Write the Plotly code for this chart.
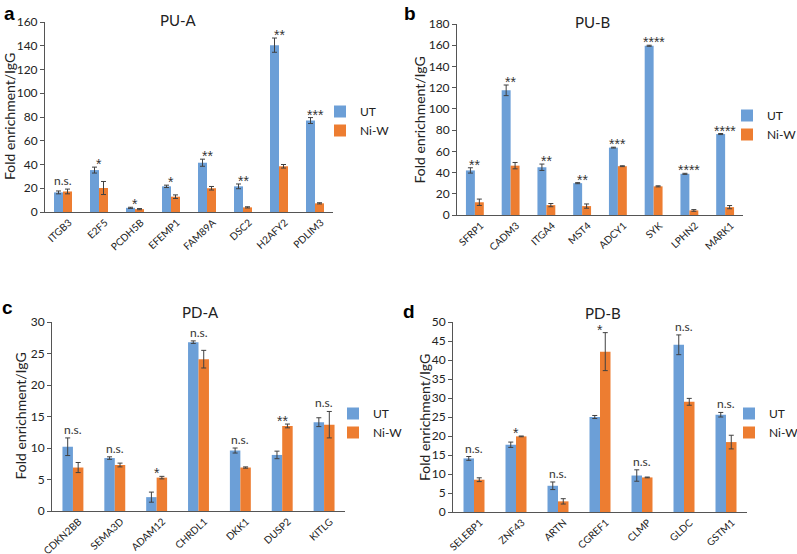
import plotly.graph_objects as go

W, H = 797, 554

# ---------------- data ----------------
a_genes = ["ITGB3", "E2F5", "PCDH5B", "EFEMP1", "FAM89A", "DSC2", "H2AFY2", "PDLIM3"]
a_ut = [16.5, 35.3, 3.5, 21.6, 41.5, 21.6, 140.5, 77.0]
a_ut_err = [1.2, 2.5, 0.5, 1.0, 3.0, 2.0, 6.0, 2.5]
a_niw = [17.3, 20.2, 2.4, 12.9, 20.0, 3.9, 38.5, 7.3]
a_niw_err = [2.0, 5.5, 0.5, 1.5, 1.5, 0.5, 1.5, 0.5]
a_sig = ["n.s.", "*", "*", "*", "**", "**", "**", "***"]

b_genes = ["SFRP1", "CADM3", "ITGA4", "MST4", "ADCY1", "SYK", "LPHN2", "MARK1"]
b_ut = [42.0, 117.5, 45.0, 30.0, 63.5, 159.5, 38.8, 76.3]
b_ut_err = [2.5, 5.0, 3.0, 0.5, 0.4, 0.5, 0.5, 0.5]
b_niw = [12.0, 46.5, 9.3, 8.4, 46.0, 27.0, 4.3, 7.4]
b_niw_err = [3.0, 3.0, 1.5, 2.0, 0.4, 0.5, 0.8, 1.5]
b_sig = ["**", "**", "**", "**", "***", "****", "****", "****"]

c_genes = ["CDKN2BB", "SEMA3D", "ADAM12", "CHRDL1", "DKK1", "DUSP2", "KITLG"]
c_ut = [10.2, 8.4, 2.2, 26.8, 9.6, 8.9, 14.1]
c_ut_err = [1.4, 0.2, 0.8, 0.2, 0.4, 0.6, 0.7]
c_niw = [6.9, 7.3, 5.3, 24.1, 6.9, 13.5, 13.7]
c_niw_err = [0.8, 0.3, 0.2, 1.4, 0.1, 0.3, 2.1]
c_sig = ["n.s.", "n.s.", "*", "n.s.", "n.s.", "**", "n.s."]

d_genes = ["SELEBP1", "ZNF43", "ARTN", "CGREF1", "CLMP", "GLDC", "GSTM1"]
d_ut = [14.1, 17.7, 6.9, 25.0, 9.6, 44.0, 25.6]
d_ut_err = [0.5, 0.7, 1.0, 0.4, 1.5, 2.6, 0.6]
d_niw = [8.5, 19.9, 2.8, 42.2, 9.1, 29.0, 18.4]
d_niw_err = [0.5, 0.1, 0.7, 5.0, 0.1, 0.9, 1.8]
d_sig = ["n.s.", "*", "n.s.", "*", "n.s.", "n.s.", "n.s."]

series_names = ["UT", "Ni-W"]
colors = ["#6C9FD7", "#ED7D31"]

panels = [
    dict(letter="a", title="PU-A", genes=a_genes, ut=a_ut, ute=a_ut_err, nw=a_niw, nwe=a_niw_err, sig=a_sig,
         ymax=160, dtick=20, px=(45, 333), py=(22, 212), title_pos=(178, 20), letter_pos=(9, 13),
         ylab_x=9, leg=(320, 97)),
    dict(letter="b", title="PU-B", genes=b_genes, ut=b_ut, ute=b_ut_err, nw=b_niw, nwe=b_niw_err, sig=b_sig,
         ymax=180, dtick=20, px=(457, 743), py=(24, 215), title_pos=(592, 22), letter_pos=(410, 13),
         ylab_x=419, leg=(727, 101)),
    dict(letter="c", title="PD-A", genes=c_genes, ut=c_ut, ute=c_ut_err, nw=c_niw, nwe=c_niw_err, sig=c_sig,
         ymax=30, dtick=5, px=(52, 345), py=(322, 511), title_pos=(200, 312), letter_pos=(8, 307),
         ylab_x=20, leg=(333, 399)),
    dict(letter="d", title="PD-B", genes=d_genes, ut=d_ut, ute=d_ut_err, nw=d_niw, nwe=d_niw_err, sig=d_sig,
         ymax=50, dtick=5, px=(453, 747), py=(322, 512), title_pos=(603, 313), letter_pos=(409, 311),
         ylab_x=424, leg=(729, 399)),
]

FONT = "Lato"
fig = go.Figure()
annotations = []
layout = {}

for i, p in enumerate(panels):
    n = i + 1
    sfx = "" if n == 1 else str(n)
    xa, ya = "x" + sfx, "y" + sfx
    legname = "legend" + sfx
    for s, (vals, errs) in enumerate([(p["ut"], p["ute"]), (p["nw"], p["nwe"])]):
        fig.add_trace(go.Bar(
            x=p["genes"], y=vals, name=series_names[s], xaxis=xa, yaxis=ya,
            marker=dict(color=colors[s], line=dict(width=0)),
            error_y=dict(type="data", array=errs, visible=True, color="#404040", thickness=1, width=2.5),
            legend=legname, showlegend=True,
        ))
    layout["xaxis" + sfx] = dict(
        domain=[p["px"][0] / W, p["px"][1] / W], anchor=ya, type="category", automargin=False,
        range=[-0.5, len(p["genes"]) - 0.5], showline=True, linecolor="#555555", linewidth=1,
        ticks="", tickangle=-43, ticklabelshift=6,
        tickfont=dict(family=FONT, size=10, color="#222222"),
        showgrid=False, zeroline=False, fixedrange=True,
    )
    layout["yaxis" + sfx] = dict(
        domain=[1 - p["py"][1] / H, 1 - p["py"][0] / H], anchor=xa, automargin=False,
        range=[0, p["ymax"]], dtick=p["dtick"], showline=True, linecolor="#555555", linewidth=1,
        ticks="outside", ticklen=4, tickcolor="#555555", tickfont=dict(family=FONT, size=12, color="#222222"),
        showgrid=False, zeroline=False, fixedrange=True,
    )
    layout[legname] = dict(
        x=p["leg"][0] / W, y=1 - p["leg"][1] / H, xanchor="left", yanchor="top",
        font=dict(family=FONT, size=12, color="#222222"), bgcolor="rgba(0,0,0,0)",
        itemwidth=30, tracegroupgap=0, itemclick=False,
    )
    annotations.append(dict(text=p["title"], x=p["title_pos"][0] / W, y=1 - p["title_pos"][1] / H,
                            xref="paper", yref="paper", showarrow=False, xanchor="center", yanchor="middle",
                            font=dict(family=FONT, size=15, color="#222222")))
    annotations.append(dict(text="<b>" + p["letter"] + "</b>", x=p["letter_pos"][0] / W, y=1 - p["letter_pos"][1] / H,
                            xref="paper", yref="paper", showarrow=False, xanchor="center", yanchor="middle",
                            font=dict(family="Liberation Sans", size=19, color="#000000")))
    ymid = (p["py"][0] + p["py"][1]) / 2
    annotations.append(dict(text="Fold enrichment/IgG", x=p["ylab_x"] / W, y=1 - ymid / H,
                            xref="paper", yref="paper", showarrow=False, textangle=-90,
                            xanchor="center", yanchor="middle",
                            font=dict(family=FONT, size=14, color="#222222")))
    for g, u, ue, v, ve, s in zip(p["genes"], p["ut"], p["ute"], p["nw"], p["nwe"], p["sig"]):
        top = max(u + ue, v + ve)
        is_star = s.startswith("*")
        annotations.append(dict(text=s, x=g, y=top, xref=xa, yref=ya, showarrow=False,
                                xanchor="center", yanchor="bottom", yshift=-7 if is_star else -1,
                                font=dict(family="Liberation Sans" if is_star else FONT,
                                          size=14 if is_star else 12, color="#333333")))

fig.update_layout(
    template="none",
    width=W, height=H, margin=dict(l=0, r=0, t=0, b=0, autoexpand=False),
    plot_bgcolor="white", paper_bgcolor="white",
    barmode="group", bargap=0.5, bargroupgap=0,
    annotations=annotations, **layout,
)

fig.write_html("out.html", config={"displayModeBar": False},
               post_script="document.body.style.margin='0';document.body.style.padding='0';"
                           "document.body.style.overflow='hidden';")
